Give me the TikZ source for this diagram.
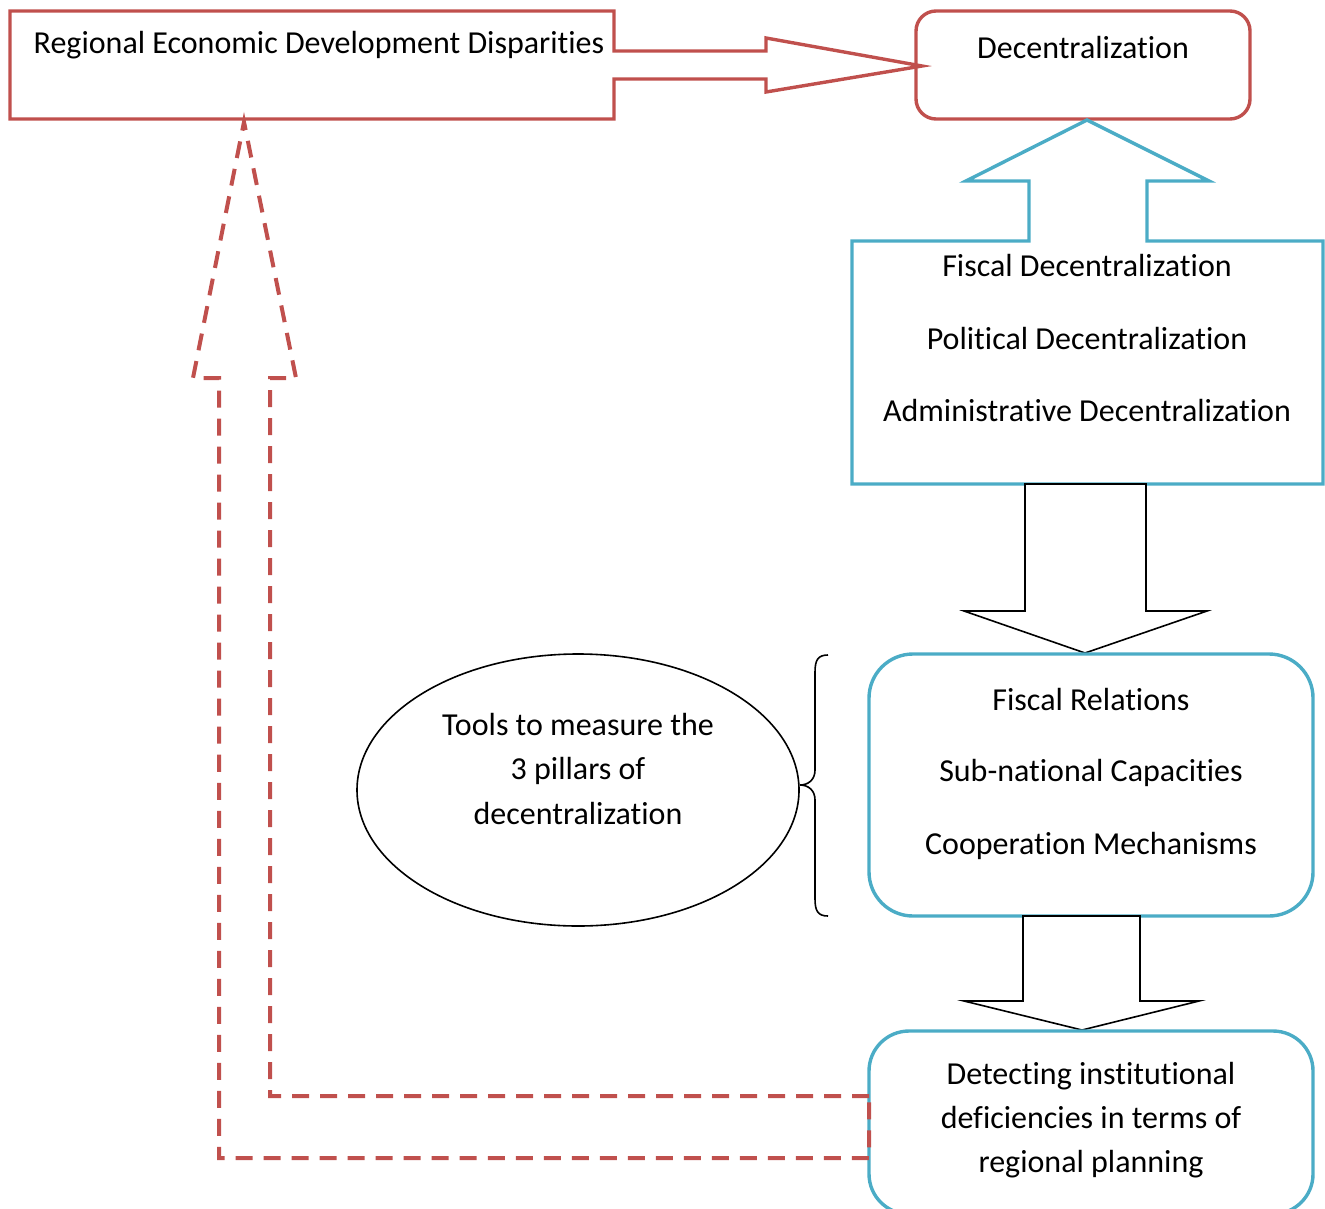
\documentclass[tikz,border=0pt]{standalone}
\usepackage{fontspec}
\setmainfont{Carlito}[RawFeature={-liga;-clig;-dlig;-calt;-hlig}]
\usetikzlibrary{shapes.geometric}
\definecolor{redline}{HTML}{C0504D}
\definecolor{blueline}{HTML}{4BACC6}
\begin{document}
\begin{tikzpicture}[x=0.5pt,y=-0.5pt,
  txt/.style={anchor=base, inner sep=0pt, font=\fontsize{16}{19}\selectfont},
  redshape/.style={draw=redline, line width=1.7pt, line join=miter},
  blueshape/.style={draw=blueline, line width=1.7pt},
  blockarrow/.style={draw=black, line width=0.8pt, fill=white},
  returnarrow/.style={draw=redline, line width=2pt, dash pattern=on 8.5pt off 5.5pt}]
\useasboundingbox (0,0) rectangle (1325,1208);
\clip (0,0) rectangle (1325,1208);

% top-left box merged with its arrow towards Decentralization
\draw[redshape] (10,11) -- (614,11) -- (614,51) -- (766,51) -- (766,38) -- (922,66)
  -- (766,92) -- (766,79) -- (614,79) -- (614,119) -- (10,119) -- cycle;
\node[txt] (redd) at (319,54) {Regional Economic Development Disparities};

% Decentralization box
\draw[redshape, rounded corners=10pt] (916,11) rectangle (1250,119);
\node[txt] (dec) at (1083,59) {Decentralization};

% three pillars box merged with its upward arrow
\draw[blueshape] (852,484) -- (852,241) -- (1029,241) -- (1029,181) -- (966,181)
  -- (1087,120) -- (1209,181) -- (1147,181) -- (1147,241) -- (1323,241) -- (1323,484) -- cycle;
\node[txt] (fiscal) at (1087,277) {Fiscal Decentralization};
\node[txt] (political) at (1087,349) {Political Decentralization};
\node[txt] (admin) at (1087,421) {Administrative Decentralization};

% arrow down to the dimensions box
\draw[blockarrow] (1025,484) -- (1146,484) -- (1146,611) -- (1207,611) -- (1085,653)
  -- (964,611) -- (1025,611) -- cycle;

% dimensions box
\draw[blueshape, rounded corners=22pt] (869,654) rectangle (1313,916);
\node[txt] (relations) at (1091,710) {Fiscal Relations};
\node[txt] (capacities) at (1091,781) {Sub-national Capacities};
\node[txt] (cooperation) at (1091,854) {Cooperation Mechanisms};

% brace grouping the dimensions
\draw[line width=0.8pt] (828,655) .. controls (818,655) and (815,660) .. (815,672)
  -- (815,770) .. controls (815,780) and (808,785) .. (800,785)
  .. controls (808,785) and (815,790) .. (815,800)
  -- (815,899) .. controls (815,911) and (818,916) .. (828,916);

% ellipse with the measurement tools
\node[draw, ellipse, line width=0.8pt, minimum width=221pt, minimum height=136pt,
  inner sep=0pt] (tools) at (578,790) {};
\node[txt] (tools1) at (578,735) {Tools to measure the};
\node[txt] (tools2) at (578,779) {3 pillars of};
\node[txt] (tools3) at (578,824) {decentralization};

% arrow down to the deficiencies box
\draw[blockarrow] (1023,916) -- (1140,916) -- (1140,1001) -- (1199,1001) -- (1082,1030)
  -- (964,1001) -- (1023,1001) -- cycle;

% deficiencies box
\draw[blueshape, rounded corners=20pt] (869,1031) rectangle (1313,1214);
\node[txt] (detect1) at (1091,1084) {Detecting institutional};
\node[txt] (detect2) at (1091,1128) {deficiencies in terms of};
\node[txt] (detect3) at (1091,1172) {regional planning};

% dashed feedback arrow back to the disparities box
\draw[returnarrow] (869,1096) -- (270,1096) -- (270,378) -- (296,378) -- (244,122)
  -- (193,378) -- (219,378) -- (219,1158) -- (869,1158) -- cycle;
\end{tikzpicture}
\end{document}
